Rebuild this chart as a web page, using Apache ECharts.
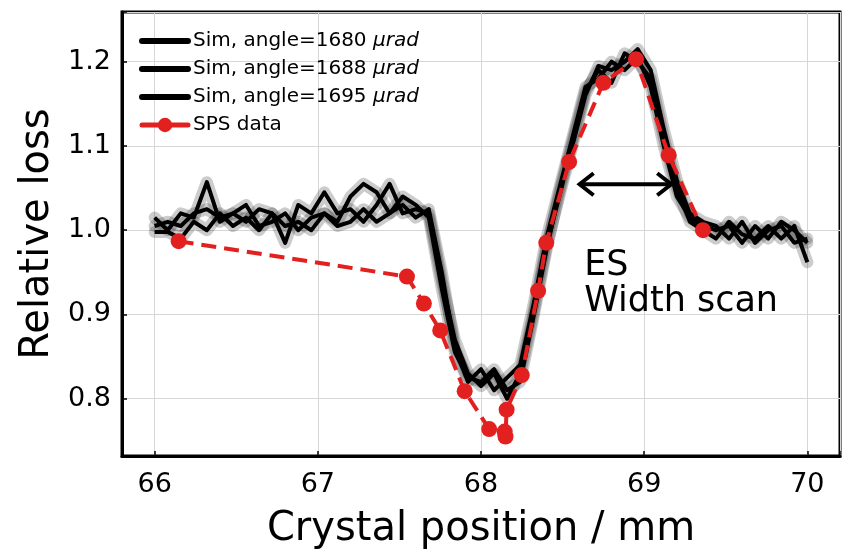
<!DOCTYPE html>
<html>
<head>
<meta charset="utf-8">
<script src="https://cdn.jsdelivr.net/npm/echarts@6/dist/echarts.min.js"></script>
<style>
  html, body { margin: 0; padding: 0; background: #fff; }
  #chart { width: 846px; height: 556px; }
</style>
</head>
<body>
<div id="chart"></div>
<script>
// Crystal positions (mm) of the simulated scan
const simPositions = [
  66.00, 66.08, 66.16, 66.24, 66.32, 66.40, 66.48, 66.56, 66.64, 66.72,
  66.80, 66.88, 66.96, 67.04, 67.12, 67.20, 67.28, 67.36, 67.44, 67.52,
  67.60, 67.68, 67.76, 67.84, 67.92, 68.00, 68.08, 68.16, 68.24, 68.32,
  68.40, 68.48, 68.56, 68.64, 68.72, 68.80, 68.88, 68.96, 69.04, 69.12,
  69.20, 69.28, 69.36, 69.44, 69.52, 69.60, 69.68, 69.76, 69.84, 69.92,
  70.00
];

// Simulated relative loss for three crystal angles
const sim1680 = [
  1.015, 1.000, 1.020, 1.015, 1.057, 1.010, 1.020, 1.010, 1.025, 1.020,
  0.985, 1.030, 1.020, 1.045, 1.020, 1.025, 1.010, 1.030, 1.055, 1.020,
  1.025, 1.020, 0.940, 0.870, 0.830, 0.815, 0.830, 0.800, 0.830, 0.900,
  0.980, 1.040, 1.100, 1.160, 1.195, 1.190, 1.200, 1.215, 1.190, 1.120,
  1.060, 1.020, 1.010, 1.005, 0.990, 1.010, 0.985, 1.000, 1.005, 0.985,
  0.990
];
const sim1688 = [
  1.005, 1.010, 1.005, 1.020, 1.025, 1.015, 1.020, 1.030, 1.005, 1.010,
  1.020, 1.000, 1.015, 1.020, 1.010, 1.040, 1.055, 1.045, 1.020, 1.030,
  1.015, 1.025, 0.950, 0.860, 0.820, 0.835, 0.810, 0.825, 0.840, 0.910,
  0.990, 1.050, 1.110, 1.170, 1.180, 1.200, 1.190, 1.205, 1.170, 1.100,
  1.040, 1.015, 1.005, 1.000, 1.005, 0.985, 1.005, 0.990, 1.010, 1.000,
  0.985
];
const sim1695 = [
  0.998, 0.998, 0.990, 1.010, 1.000, 1.020, 1.005, 1.015, 1.000, 1.020,
  1.005, 1.010, 1.000, 1.020, 1.005, 1.010, 1.025, 1.010, 1.020, 1.040,
  1.030, 1.015, 0.930, 0.855, 0.825, 0.820, 0.835, 0.810, 0.820, 0.895,
  0.975, 1.045, 1.105, 1.165, 1.190, 1.175, 1.210, 1.200, 1.180, 1.110,
  1.050, 1.010, 1.000, 0.990, 1.010, 0.995, 0.990, 1.005, 0.990, 1.005,
  0.962
];

// Measured SPS data
const spsPositions = [
  66.147, 67.546, 67.650, 67.750, 67.900, 68.050, 68.145, 68.150, 68.157,
  68.250, 68.350, 68.400, 68.540, 68.750, 68.950, 69.150, 69.360
];
const spsLoss = [
  0.987, 0.945, 0.913, 0.881, 0.809, 0.764, 0.761, 0.755, 0.787,
  0.828, 0.928, 0.985, 1.081, 1.175, 1.203, 1.089, 1.000
];

// Axis ticks
const xTicks = [66, 67, 68, 69, 70];
const yTicks = [0.8, 0.9, 1.0, 1.1, 1.2];

// Annotation: energy-spread width marker [from, to, level] and label anchor
const widthArrow = [68.598, 69.172, 1.0546];
const widthLabelAnchor = [68.632, 0.936];

const FONT = 'DejaVu Sans';
const pairs = (xs, ys) => xs.map((x, i) => [x, ys[i]]);

const sims = [
  { name: 'Sim, angle=1680', values: sim1680 },
  { name: 'Sim, angle=1688', values: sim1688 },
  { name: 'Sim, angle=1695', values: sim1695 }
];

const series = [];
// translucent uncertainty halo under each simulated curve
sims.forEach(s => {
  series.push({
    type: 'line', name: s.name + ' band', data: pairs(simPositions, s.values),
    symbol: 'none', silent: true, z: 1,
    lineStyle: { color: 'rgba(0,0,0,0.2)', width: 12, join: 'round', cap: 'round' }
  });
});
sims.forEach(s => {
  series.push({
    type: 'line', name: s.name, data: pairs(simPositions, s.values),
    symbol: 'none', z: 3, color: '#000',
    lineStyle: { color: '#000', width: 4, join: 'round' }
  });
});
series.push({
  type: 'line', name: 'SPS data', data: pairs(spsPositions, spsLoss),
  symbol: 'circle', symbolSize: 16, z: 5, color: '#e2201f',
  itemStyle: { color: '#e2201f' },
  lineStyle: { color: '#e2201f', width: 4, type: [15, 8] }
});
// double-headed arrow
series.push({
  type: 'custom', coordinateSystem: 'cartesian2d', silent: true, z: 6,
  data: [widthArrow], encode: { x: [0, 1], y: 2 },
  renderItem: function (params, api) {
    const a = api.coord([api.value(0), api.value(2)]);
    const b = api.coord([api.value(1), api.value(2)]);
    const h = 15, w = 11;
    const st = { stroke: '#000', lineWidth: 4, fill: null, lineJoin: 'miter' };
    return {
      type: 'group', children: [
        { type: 'line', shape: { x1: a[0] + 2, y1: a[1], x2: b[0] - 2, y2: b[1] }, style: st },
        { type: 'polyline', shape: { points: [[a[0] + h, a[1] - w], [a[0] + 1, a[1]], [a[0] + h, a[1] + w]] }, style: st },
        { type: 'polyline', shape: { points: [[b[0] - h, b[1] - w], [b[0] - 1, b[1]], [b[0] - h, b[1] + w]] }, style: st }
      ]
    };
  }
});
// annotation text
series.push({
  type: 'custom', coordinateSystem: 'cartesian2d', silent: true, z: 6,
  data: [widthLabelAnchor],
  renderItem: function (params, api) {
    const p = api.coord([api.value(0), api.value(1)]);
    return {
      type: 'text', x: p[0], y: p[1],
      style: {
        text: 'ES\nWidth scan', fill: '#000', fontSize: 35, fontFamily: FONT,
        lineHeight: 36, align: 'left', verticalAlign: 'middle'
      }
    };
  }
});

const near = (v, list) => list.some(t => Math.abs(t - v) < 1e-6);
const simLegendItem = name => ({
  name: name,
  itemStyle: { color: '#000', opacity: 0 },
  lineStyle: { color: '#000', width: 6, cap: 'round', opacity: 1 }
});

const option = {
  animation: false,
  backgroundColor: '#fff',
  grid: {
    left: 122, right: 6, top: 12, bottom: 100,
    show: true, borderColor: '#000', borderWidth: 3, backgroundColor: 'transparent'
  },
  legend: {
    orient: 'vertical', left: 134, top: 26,
    itemWidth: 46, itemHeight: 18, itemGap: 8,
    selectedMode: false,
    textStyle: {
      fontFamily: FONT, fontSize: 20, lineHeight: 20, color: '#000',
      rich: { i: { fontFamily: FONT, fontSize: 20, lineHeight: 20, fontStyle: 'italic', color: '#000' } }
    },
    formatter: name => name.startsWith('Sim') ? name + ' {i|\u03bcrad}' : name,
    data: [
      simLegendItem('Sim, angle=1680'),
      simLegendItem('Sim, angle=1688'),
      simLegendItem('Sim, angle=1695'),
      { name: 'SPS data', lineStyle: { type: 'solid', width: 5, cap: 'round' } }
    ]
  },
  xAxis: {
    type: 'value', min: 65.8, max: 70.2,
    name: 'Crystal position / mm', nameLocation: 'middle', nameGap: 54,
    nameTextStyle: { fontFamily: FONT, fontSize: 40, color: '#000' },
    axisLine: { show: true, lineStyle: { color: '#000', width: 3 } },
    axisTick: { show: true, inside: true, length: 5, lineStyle: { color: '#000', width: 1.5 } },
    axisLabel: {
      fontFamily: FONT, fontSize: 27, color: '#000', margin: 15,
      formatter: v => near(v, xTicks) ? String(Math.round(v)) : ''
    },
    splitLine: { show: true, lineStyle: { color: '#d6d6d6', width: 1 } }
  },
  yAxis: {
    type: 'value', min: 0.732, max: 1.259,
    name: 'Relative loss', nameLocation: 'middle', nameGap: 52, nameRotate: 90,
    nameTextStyle: { fontFamily: FONT, fontSize: 40, color: '#000' },
    axisLine: { show: true, lineStyle: { color: '#000', width: 3 } },
    axisTick: { show: true, inside: true, length: 5, lineStyle: { color: '#000', width: 1.5 } },
    axisLabel: {
      fontFamily: FONT, fontSize: 27, color: '#000', margin: 11,
      formatter: v => near(v, yTicks) ? v.toFixed(1) : ''
    },
    splitLine: { show: true, lineStyle: { color: '#d6d6d6', width: 1 } }
  },
  series: series
};

const chart = echarts.init(document.getElementById('chart'), null, { renderer: 'canvas' });
chart.setOption(option);
</script>
</body>
</html>
